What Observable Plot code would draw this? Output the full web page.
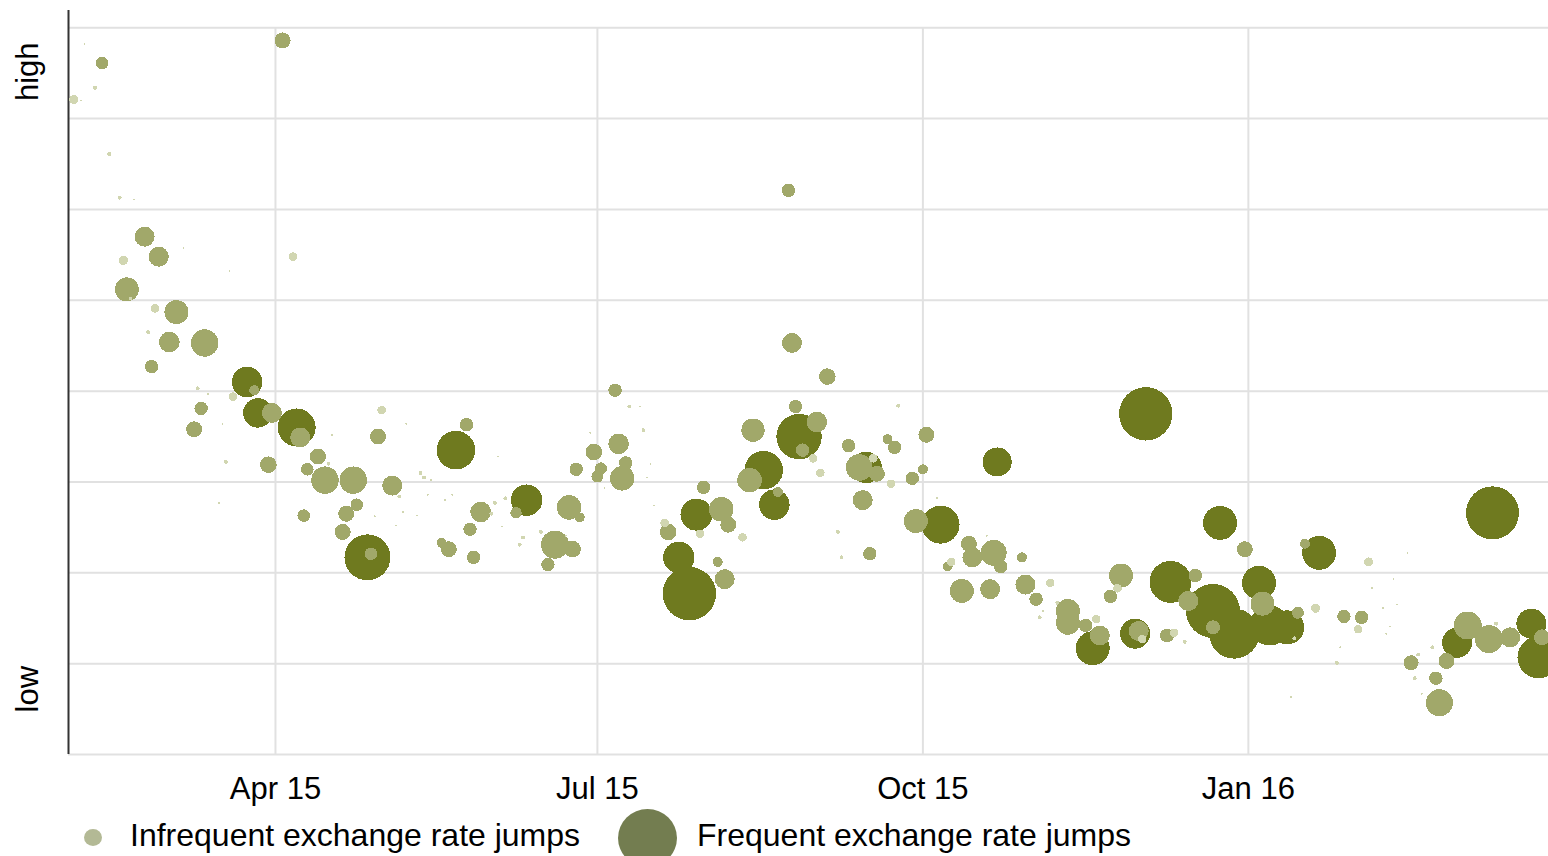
<!DOCTYPE html>
<html><head><meta charset="utf-8">
<script src="https://cdn.jsdelivr.net/npm/d3@7"></script>
<script src="https://cdn.jsdelivr.net/npm/@observablehq/plot@0.6"></script>
<style>
body{margin:0;background:#fff;font-family:"Liberation Sans",Arial,sans-serif;}
#wrap{position:relative;width:1548px;height:856px;overflow:hidden;}
.leg{position:absolute;font-size:32px;line-height:32px;color:#000;white-space:nowrap;}
.sw{position:absolute;border-radius:50%;}
</style></head><body><div id="wrap"><div id="chart"></div>
<div class="sw" style="left:84px;top:829px;width:18px;height:17px;background:#b3b995"></div>
<div class="leg" id="leg1" style="left:130px;top:819px"></div>
<div class="sw" style="left:618px;top:809px;width:59px;height:58px;background:#737d50"></div>
<div class="leg" id="leg2" style="left:697px;top:819px"></div>
</div>
<script>
const dates = ["2015-02-03","2015-02-05","2015-02-06","2015-02-09","2015-02-11","2015-02-13","2015-02-16","2015-02-17","2015-02-18","2015-02-19",
"2015-02-20","2015-02-23","2015-02-24","2015-02-25","2015-02-26","2015-02-27","2015-03-02","2015-03-04","2015-03-06","2015-03-09",
"2015-03-10","2015-03-11","2015-03-12","2015-03-13","2015-03-16","2015-03-17","2015-03-18","2015-03-19","2015-03-20","2015-03-24",
"2015-03-26","2015-03-27","2015-03-30","2015-03-31","2015-04-03","2015-04-06","2015-04-07","2015-04-08","2015-04-09","2015-04-10",
"2015-04-13","2015-04-15","2015-04-16","2015-04-17","2015-04-20","2015-04-21","2015-04-23","2015-04-24","2015-04-27","2015-04-28",
"2015-04-29","2015-04-30","2015-05-01","2015-05-04","2015-05-05","2015-05-06","2015-05-07","2015-05-08","2015-05-11","2015-05-12",
"2015-05-13","2015-05-14","2015-05-15","2015-05-18","2015-05-19","2015-05-20","2015-05-21","2015-05-22","2015-05-25","2015-05-26",
"2015-05-27","2015-05-29","2015-06-01","2015-06-02","2015-06-03","2015-06-04","2015-06-05","2015-06-08","2015-06-09","2015-06-10",
"2015-06-11","2015-06-15","2015-06-17","2015-06-19","2015-06-22","2015-06-23","2015-06-24","2015-06-25","2015-06-26","2015-06-29",
"2015-06-30","2015-07-01","2015-07-02","2015-07-03","2015-07-06","2015-07-07","2015-07-08","2015-07-09","2015-07-10","2015-07-13",
"2015-07-14","2015-07-15","2015-07-16","2015-07-17","2015-07-20","2015-07-21","2015-07-24","2015-07-27","2015-07-29","2015-07-30",
"2015-07-31","2015-08-04","2015-08-05","2015-08-06","2015-08-07","2015-08-11","2015-08-13","2015-08-14","2015-08-17","2015-08-20",
"2015-08-21","2015-08-24","2015-08-25","2015-08-26","2015-08-27","2015-08-28","2015-08-31","2015-09-01","2015-09-02","2015-09-04",
"2015-09-07","2015-09-08","2015-09-10","2015-09-13","2015-09-14","2015-09-15","2015-09-16","2015-09-17","2015-09-18","2015-09-21",
"2015-09-22","2015-09-23","2015-09-24","2015-09-28","2015-09-29","2015-10-01","2015-10-02","2015-10-05","2015-10-06","2015-10-08",
"2015-10-09","2015-10-12","2015-10-14","2015-10-15","2015-10-19","2015-10-20","2015-10-21","2015-10-22","2015-10-23","2015-10-29",
"2015-10-30","2015-11-02","2015-11-03","2015-11-04","2015-11-06","2015-11-08","2015-11-11","2015-11-11","2015-11-16","2015-11-18",
"2015-11-19","2015-11-20","2015-11-23","2015-11-25","2015-11-26","2015-11-30","2015-12-01","2015-12-02","2015-12-03","2015-12-09",
"2015-12-10","2015-12-11","2015-12-14","2015-12-15","2015-12-17","2015-12-22","2015-12-22","2015-12-24","2015-12-28","2015-12-31",
"2016-01-04","2016-01-05","2016-01-07","2016-01-12","2016-01-14","2016-01-15","2016-01-13","2016-01-17","2016-01-20","2016-01-21",
"2016-01-26","2016-01-27","2016-01-28","2016-02-01","2016-02-02","2016-02-04","2016-02-05","2016-02-08","2016-02-09","2016-02-10",
"2016-02-11","2016-02-12","2016-02-15","2016-02-16","2016-02-17","2016-02-18","2016-02-19","2016-02-22","2016-02-23","2016-02-24",
"2016-02-26","2016-02-29","2016-03-03","2016-03-09","2016-03-10","2016-03-11","2016-03-15","2016-03-21","2016-03-23","2016-03-24"];

const values = [7.21,7.20,7.82,7.34,7.61,6.61,6.13,5.44,5.12,5.02,
6.11,5.70,4.65,4.27,4.91,5.48,4.54,4.87,5.58,3.58,
4.03,3.81,4.53,3.97,2.77,3.64,3.22,5.32,3.94,4.10,
4.01,3.76,3.19,3.76,7.86,5.48,3.60,3.49,2.63,3.14,
3.28,3.02,3.20,3.52,2.45,2.65,3.02,2.75,2.17,2.21,
2.62,3.50,3.79,2.96,2.52,2.84,2.67,3.64,2.63,3.10,
3.05,2.86,3.02,2.33,2.80,2.26,2.86,3.35,3.63,2.48,
2.17,2.67,2.65,2.77,3.28,2.51,2.82,2.66,2.31,2.39,
2.80,2.45,2.09,2.31,2.41,2.72,2.26,3.14,2.61,3.54,
3.33,3.06,3.15,2.93,4.01,3.42,3.04,3.21,3.83,3.83,
3.57,3.05,3.20,2.74,2.55,2.45,2.17,1.77,2.64,2.43,
2.94,2.12,2.70,1.93,2.53,2.39,3.02,3.57,3.13,2.75,
2.89,6.21,4.53,3.83,3.50,3.35,3.26,3.66,3.10,4.16,
2.45,2.17,3.40,3.16,2.80,3.16,2.21,3.26,3.09,3.47,
2.98,3.38,3.84,3.04,2.57,3.14,3.52,2.82,2.53,2.07,
2.12,1.80,2.32,2.17,2.41,1.82,2.22,3.22,2.07,2.17,
1.87,1.71,1.51,1.58,1.89,1.67,1.58,1.45,1.42,1.17,
1.49,1.31,1.74,1.83,1.97,1.33,1.36,1.27,3.75,1.31,
1.90,1.34,1.24,1.69,1.97,1.58,1.40,2.55,1.33,2.26,
1.89,1.66,1.42,1.40,1.28,1.56,0.63,2.32,1.61,2.22,
1.01,1.18,1.52,1.38,1.51,2.12,1.83,1.61,1.33,1.41,
1.93,1.65,2.22,1.01,0.84,1.10,0.67,1.18,0.84,0.57,
1.03,1.23,1.42,1.27,2.66,1.44,1.29,1.44,1.07,1.29];

const sizes = [2.25,0.11,0.11,0.44,4.4,0.44,0.44,2.45,16,0.25,
0.11,11.1,0.44,5,2.05,11.1,11.8,16,0.11,7.1,
0.44,5,20.9,0.11,0.11,0.11,0.44,0.11,2.05,26,
2.78,24,7.65,11.1,7.1,2.05,40.1,11.1,4.4,4.4,
7.1,20.9,0.44,0.11,7.1,7.1,20.9,4.4,58.8,4.4,
0.11,7.1,2.05,11.1,0.11,0.44,0.11,0.11,0.11,0.44,
0.44,0.11,0.11,2.78,0.11,7.1,0.11,41.4,5,5,
5,11.8,0.44,0.44,0.11,0.11,0.44,3.6,0.44,0.44,
27.4,0.44,5,21.8,0.11,16.8,7.65,5,2.78,0.11,
7.65,4,4,0.11,5,11.8,16.8,5,0.44,0.11,
0.44,0.11,0.11,0.11,2.05,7.65,27.4,79.2,28.4,2.05,
5,2.78,16.8,11.1,7.1,2.05,16.8,15.2,41.4,26,
2.78,5,11.1,5,57.3,5,2.05,11.8,2.05,7.65,
0.44,0.44,5,19.7,11.1,27.4,5,2.05,7.1,2.78,
2.05,5,0.44,5,16,2.78,7.1,0.11,40.1,2.78,
2.05,16,7.1,11.1,0.11,11.1,18.8,23.4,5,2.78,
11.1,5,0.44,0.11,2.05,0.44,16,16,5,32.1,
2.05,11.1,5,2.05,16,25,11.1,2.05,79.2,5.4,
49,2.05,0.44,11.1,5,81,5.4,32.1,69.4,7.1,
32.1,16,44.4,32.1,0.44,4,0.11,2.78,2.25,32.1,
0.44,0.11,5,2.05,5,2.25,0.11,0.11,0.11,0.11,
0.11,0.11,0.11,6.25,0.44,0.44,0.11,0.44,5,20.3,
7.1,25,21.8,21.8,78,0.44,11.1,25,49,7.1];

const xTickDates = ["2015-04-01","2015-07-01","2015-10-01","2016-01-01"];
const xDomain = ["2015-02-01T12:00Z","2016-03-25T20:00Z"];
const yGridValues = [0,1,2,3,4,5,6,7,8];
const yDomain = [0, 8.19];
const axisLabels = ["high","low"];
const levels = ["light","medium","dark"];
const levelColors = ["#d1d6b1","#a1a86a","#6f7a1f"];
const legendLabels = ["Infrequent exchange rate jumps","Frequent exchange rate jumps"];

document.getElementById("leg1").textContent = legendLabels[0];
document.getElementById("leg2").textContent = legendLabels[1];

const data = dates.map((d, i) => ({
  date: new Date(d),
  value: values[i],
  size: sizes[i],
  level: sizes[i] < 2.6 ? levels[0] : sizes[i] < 22.5 ? levels[1] : levels[2]
}));
const ticks = xTickDates.map(d => new Date(d));

const chart = Plot.plot({
  width: 1548, height: 806,
  marginLeft: 68, marginRight: 0, marginTop: 10, marginBottom: 52,
  style: {fontFamily: '"Liberation Sans", Arial, sans-serif', fontSize: "31px", color: "#000", background: "#fff", overflow: "visible"},
  x: {type: "utc", domain: xDomain.map(d => new Date(d)), axis: null},
  y: {domain: yDomain, axis: null},
  r: {type: "sqrt", domain: [0, 100], range: [0, 30]},
  color: {domain: levels, range: levelColors},
  marks: [
    Plot.gridY({ticks: yGridValues, stroke: "#e1e1e1", strokeOpacity: 1, strokeWidth: 2}),
    Plot.ruleX(ticks, {y1: yGridValues[0], y2: yGridValues[yGridValues.length - 1], stroke: "#e1e1e1", strokeOpacity: 1, strokeWidth: 2}),
    Plot.ruleX([new Date(xDomain[0])], {stroke: "#333", strokeWidth: 2}),
    Plot.dot(data, {x: "date", y: "value", r: "size", fill: "level", stroke: "none", shapeRendering: "crispEdges"}),
    Plot.axisX({ticks: ticks, tickFormat: "%b %y", tickSize: 0, tickPadding: 22, fill: "#000"}),
    Plot.text([axisLabels[0]], {text: d => d, frameAnchor: "top-left", rotate: -90, textAnchor: "end", lineAnchor: "middle", dx: -40, dy: 32, fill: "#000"}),
    Plot.text([axisLabels[1]], {text: d => d, frameAnchor: "bottom-left", rotate: -90, textAnchor: "start", lineAnchor: "middle", dx: -40, dy: -42, fill: "#000"})
  ]
});
document.getElementById("chart").appendChild(chart);
</script>
</body></html>
